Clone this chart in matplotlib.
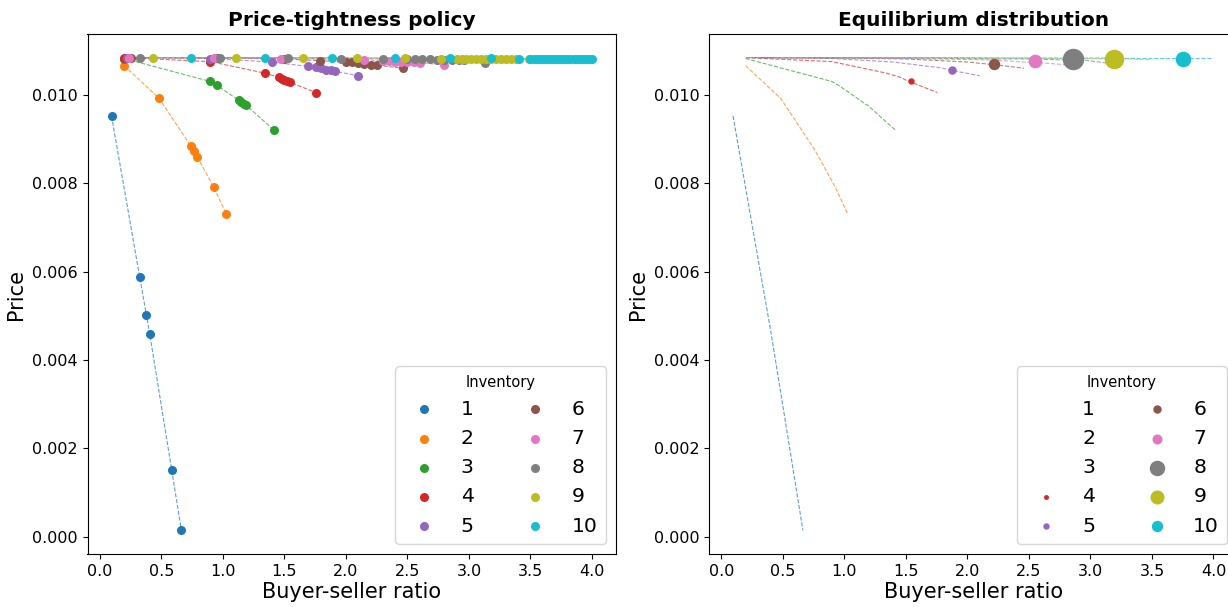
"""Plot the price-tightness policy and the equilibrium distribution per inventory level"""
import matplotlib
matplotlib.use("Agg")
import matplotlib.pyplot as plt

inventories = [1, 2, 3, 4, 5, 6, 7, 8, 9, 10]

# buyer-seller ratio and price for each inventory level (policy points)
ratio_1 = [0.095, 0.324, 0.378, 0.405, 0.584, 0.663]
price_1 = [0.00953, 0.00588, 0.00503, 0.00460, 0.00151, 0.00014]

ratio_2 = [0.197, 0.481, 0.741, 0.765, 0.792, 0.927, 1.027]
price_2 = [0.01067, 0.00993, 0.00884, 0.00873, 0.00860, 0.00791, 0.00731]

ratio_3 = [0.197, 0.898, 0.949, 1.13, 1.15, 1.17, 1.19, 1.414]
price_3 = [0.01083, 0.01031, 0.01023, 0.00988, 0.00984, 0.00980, 0.00977, 0.00921]

ratio_4 = [0.20, 0.898, 1.34, 1.46, 1.48, 1.50, 1.52, 1.547, 1.754]
price_4 = [0.01085, 0.01076, 0.01050, 0.01040, 0.01037, 0.01034, 0.01032, 0.01029, 0.01006]

ratio_5 = [0.22, 0.898, 1.40, 1.69, 1.76, 1.80, 1.84, 1.88, 1.91, 2.10]
price_5 = [0.01085, 0.01083, 0.01075, 0.01065, 0.01063, 0.01061, 0.01058, 0.01056, 0.01054, 0.01044]

ratio_6 = [0.25, 0.95, 1.50, 1.79, 2.00, 2.05, 2.10, 2.15, 2.20, 2.25, 2.46]
price_6 = [0.01085, 0.01084, 0.01082, 0.01078, 0.01075, 0.01074, 0.01072, 0.01071, 0.01069, 0.01068, 0.01061]

ratio_7 = [0.24, 0.93, 1.47, 2.15, 2.30, 2.35, 2.40, 2.45, 2.50, 2.55, 2.60, 2.80]
price_7 = [0.01085, 0.01085, 0.01083, 0.01080, 0.01078, 0.01077, 0.01076, 0.01075, 0.01075, 0.01074, 0.01073, 0.01069]

ratio_8 = [0.324, 0.973, 1.527, 1.96, 2.30, 2.50, 2.56, 2.62, 2.68, 2.74, 2.80, 2.86, 2.92, 2.96, 3.13]
price_8 = [0.01085, 0.01085, 0.01084, 0.01083, 0.01082, 0.01082, 0.01081, 0.01081, 0.01081, 0.01080,
           0.01080, 0.01080, 0.01079, 0.01079, 0.01073]

ratio_9 = [0.432, 1.103, 1.649, 2.09, 2.48, 2.77, 2.90, 2.94, 2.98, 3.02, 3.06, 3.10, 3.14, 3.18,
           3.22, 3.26, 3.30, 3.34, 3.38, 3.49]
price_9 = [0.01085, 0.01085, 0.01085, 0.01084, 0.01084, 0.01083, 0.01083, 0.01083, 0.01083, 0.01083,
           0.01083, 0.01082, 0.01082, 0.01082, 0.01082, 0.01082, 0.01082, 0.01082, 0.01081, 0.01081]

ratio_10 = [0.743, 1.34, 1.887, 2.40, 2.85, 3.18, 3.41, 3.50, 3.525, 3.55, 3.575, 3.60, 3.625, 3.65,
            3.675, 3.70, 3.725, 3.75, 3.775, 3.80, 3.825, 3.85, 3.875, 3.90, 3.925, 3.95, 3.975, 4.00]
price_10 = [0.01085, 0.01085, 0.01085, 0.01084, 0.01084, 0.01084, 0.01083, 0.01083, 0.01083, 0.01083,
            0.01083, 0.01083, 0.01083, 0.01083, 0.01083, 0.01083, 0.01083, 0.01083, 0.01083, 0.01083,
            0.01083, 0.01083, 0.01083, 0.01083, 0.01083, 0.01083, 0.01083, 0.01083]

ratios = [ratio_1, ratio_2, ratio_3, ratio_4, ratio_5, ratio_6, ratio_7, ratio_8, ratio_9, ratio_10]
prices = [price_1, price_2, price_3, price_4, price_5, price_6, price_7, price_8, price_9, price_10]

# equilibrium point of every inventory level and its share in the distribution
eq_ratio = [0.40, 0.75, 1.15, 1.538, 1.876, 2.214, 2.546, 2.86, 3.19, 3.75]
eq_price = [0.00460, 0.00873, 0.00984, 0.01032, 0.01057, 0.01071, 0.01077, 0.01081, 0.01083, 0.01083]
eq_share = [0.0, 0.0, 0.0, 0.02, 0.04, 0.08, 0.12, 0.32, 0.26, 0.16]

colors = plt.rcParams["axes.prop_cycle"].by_key()["color"]


def style_axes(ax, title):
    """Titles, labels and legend shared by both panels"""
    ax.set_title(title, fontsize=14.5, fontweight="bold")
    ax.set_xlabel("Buyer-seller ratio", fontsize=15, labelpad=2)
    ax.set_ylabel("Price", fontsize=15)
    ax.tick_params(labelsize=11.5)


def plot_policy(ax):
    """Left panel: every policy point, joined by dashed lines"""
    for inv, x, y, c in zip(inventories, ratios, prices, colors):
        ax.plot(x, y, "--", color=c, lw=0.8, alpha=0.7)
        ax.scatter(x, y, color=c, s=30, label=str(inv), zorder=3)
    style_axes(ax, "Price-tightness policy")
    ax.legend(title="Inventory", ncol=2, loc="lower right", fontsize=14.7, title_fontsize=10.5)


def plot_distribution(ax):
    """Right panel: policy lines, one point per inventory sized by its share"""
    for inv, x, y, c in zip(inventories, ratios, prices, colors):
        ax.plot(x, y, "--", color=c, lw=0.8, alpha=0.7)
    for i, inv in enumerate(inventories):
        ax.scatter(eq_ratio[i], eq_price[i], color=colors[i], s=eq_share[i] * 650,
                   label=str(inv), zorder=3)
    style_axes(ax, "Equilibrium distribution")
    ax.legend(title="Inventory", ncol=2, loc="lower right", fontsize=14.7, title_fontsize=10.5,
              markerscale=0.7)


def main():
    fig = plt.figure(figsize=(12.28, 6.07), dpi=100)
    w, h = 1228, 607
    ax1 = fig.add_axes([87.5 / w, 53 / h, 528.5 / w, 520 / h])
    ax2 = fig.add_axes([709 / w, 53 / h, 528.5 / w, 520 / h])
    plot_policy(ax1)
    plot_distribution(ax2)
    fig.savefig("out.png", dpi=100)


if __name__ == "__main__":
    main()
